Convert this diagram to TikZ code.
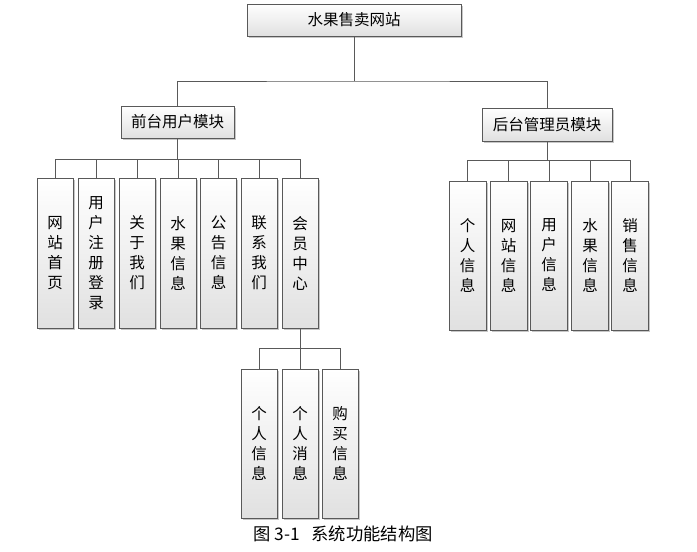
\documentclass[tikz,border=0pt]{standalone}
\usepackage{fontspec}
\setmainfont{Noto Sans CJK SC}
\usetikzlibrary{shadows}
\tikzset{
  boxbase/.style={draw=black!65, line width=0.9pt, inner sep=0pt, top color=white, bottom color=black!12,
    drop shadow={shadow xshift=1.6pt, shadow yshift=-1.6pt, fill=black!40, opacity=0.55}},
  hbox/.style={boxbase, minimum height=32pt, font=\fontsize{15.5}{18}\selectfont},
  vbox/.style={boxbase, minimum width=36pt, minimum height=150pt, align=center, font=\fontsize{15.5}{20}\selectfont},
  conn/.style={draw=black!65, line width=0.9pt},
  captext/.style={font=\fontsize{17.3}{18}\selectfont}
}
\begin{document}
\begin{tikzpicture}[x=1pt,y=-1pt]
\useasboundingbox[fill=white] (0,0) rectangle (697,552);
% top
\node[hbox, minimum width=214pt] (root) at (354,20) {水果售卖网站};
\node[hbox, minimum width=113pt] (fm) at (177.5,122) {前台用户模块};
\node[hbox, minimum width=130pt, minimum height=33pt] (bm) at (547,124.5) {后台管理员模块};
% front leaves
\node[vbox] (l1) at (55,253) {网\\站\\首\\页};
\node[vbox] (l2) at (96,253) {用\\户\\注\\册\\登\\录};
\node[vbox] (l3) at (137,253) {关\\于\\我\\们};
\node[vbox] (l4) at (178,253) {水\\果\\信\\息};
\node[vbox] (l5) at (218.5,253) {公\\告\\信\\息};
\node[vbox] (l6) at (259,253) {联\\系\\我\\们};
\node[vbox] (l7) at (300,253) {会\\员\\中\\心};
% back leaves
\node[vbox, minimum width=37pt, minimum height=149pt] (r1) at (467.5,255.5) {个\\人\\信\\息};
\node[vbox, minimum width=37pt, minimum height=149pt] (r2) at (508.5,255.5) {网\\站\\信\\息};
\node[vbox, minimum width=37pt, minimum height=149pt] (r3) at (549,255.5) {用\\户\\信\\息};
\node[vbox, minimum width=37pt, minimum height=149pt] (r4) at (590,255.5) {水\\果\\信\\息};
\node[vbox, minimum width=37pt, minimum height=149pt] (r5) at (630,255.5) {销\\售\\信\\息};
% member sub leaves
\node[vbox, minimum height=149pt] (m1) at (259,443.5) {个\\人\\信\\息};
\node[vbox, minimum height=149pt] (m2) at (300,443.5) {个\\人\\消\\息};
\node[vbox, minimum height=149pt] (m3) at (340,443.5) {购\\买\\信\\息};
% bus coordinates
\coordinate (b0) at (0,81);
\coordinate (b1) at (0,159);
\coordinate (b2) at (0,160);
\coordinate (b3) at (0,348);
% connectors
\draw[conn] (root.south) -- (root.south |- b0);
\draw[conn] (fm.north) |- (root.south |- b0) -| (bm.north);
\draw[conn] (fm.south) -- (fm.south |- b1);
\foreach \i in {1,...,7} { \draw[conn] (l\i.north) |- (fm.south |- b1); }
\draw[conn] (bm.south) -- (bm.south |- b2);
\foreach \i in {1,...,5} { \draw[conn] (r\i.north) |- (bm.south |- b2); }
\draw[conn] (l7.south) -- (l7.south |- b3);
\foreach \i in {1,2,3} { \draw[conn] (m\i.north) |- (l7.south |- b3); }
% caption
\node[captext] (caption) at (343,534) {图\hspace{4pt}3-1\hspace{12pt}系统功能结构图};
\end{tikzpicture}
\end{document}
